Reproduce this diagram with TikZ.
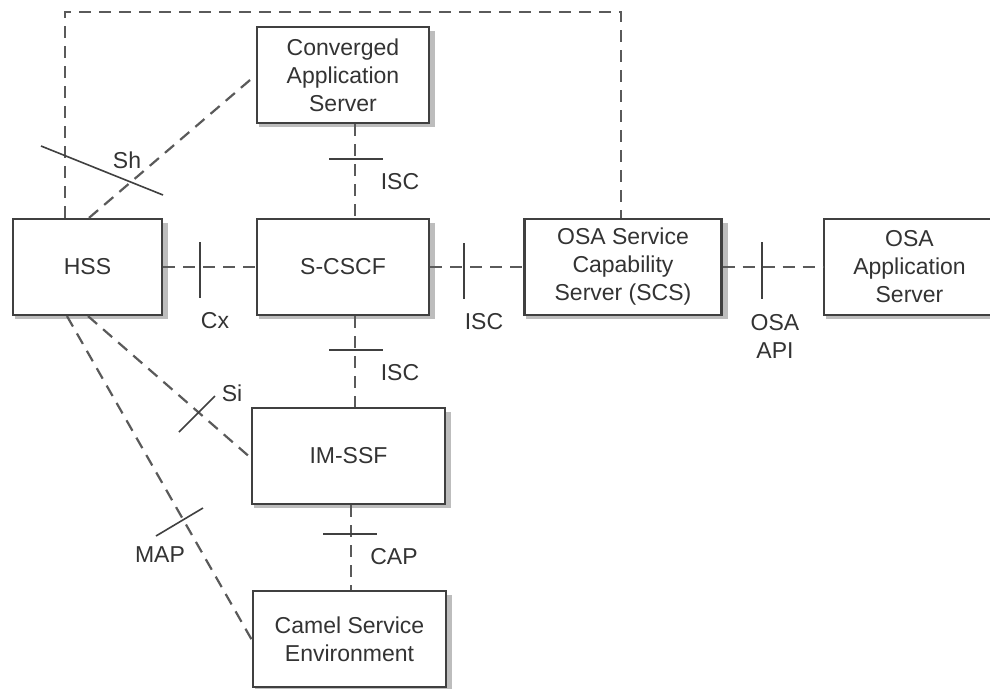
\documentclass[tikz,border=0pt]{standalone}
\usepackage{fontspec}
\setmainfont{Liberation Sans}
\usetikzlibrary{backgrounds}
\definecolor{boxline}{HTML}{404040}
\definecolor{dashline}{HTML}{5A5A5A}
\definecolor{txt}{HTML}{333333}
\definecolor{shade}{HTML}{BDBDBD}
\begin{document}
\begin{tikzpicture}[x=1pt,y=-1pt,
  box/.style={draw=boxline, line width=2.2pt, fill=white, rectangle, minimum height=96pt,
    align=center, text=txt, font=\fontsize{23}{28}\selectfont, inner sep=0pt},
  shadowbox/.style={fill=shade},
  dl/.style={draw=dashline, line width=2.2pt, dash pattern=on 12pt off 8pt},
  tick/.style={draw=boxline, line width=1.6pt},
  lbl/.style={text=txt, font=\fontsize{23}{28}\selectfont, align=center, inner sep=0pt}]
\useasboundingbox (0,0) rectangle (990,688);
\clip (0,0) rectangle (990,688);

\coordinate (topl) at (65,12);
\coordinate (topr) at (621,12);

\node[box, minimum width=149pt] (hss) at (87.5,267) {HSS};
\node[box, minimum width=172pt] (cas) at (343,75) {Converged\\Application\\Server};
\node[box, minimum width=172pt] (scscf) at (343,267) {S-CSCF};
\node[box, minimum width=197pt] (scs) at (623,267) {OSA Service\\Capability\\Server (SCS)};
\node[box, minimum width=171pt] (osaas) at (909.5,267) {OSA\\Application\\Server};
\node[box, minimum width=193pt] (imssf) at (348.5,456) {IM-SSF};
\node[box, minimum width=193pt] (camel) at (349.5,639) {Camel Service\\Environment};

\begin{scope}[on background layer]
\fill[white] (0,0) rectangle (990,688);
\foreach \n in {hss,cas,scscf,scs,osaas,imssf,camel}{
  \fill[shadowbox] ([shift={(3,3)}]\n.south west) rectangle ([shift={(5,5)}]\n.north east);
}
\end{scope}

% dashed connectors
\draw[dl] ([xshift=-22.5pt]hss.north) -- (topl) -- (topr) -- ([xshift=-2pt]scs.north);
\draw[dl] ([xshift=1.5pt]hss.north) -- (cas.west);
\draw[dl] (hss.east) -- (scscf.west);
\draw[dl] ([xshift=12pt]cas.south) -- ([xshift=12pt]scscf.north);
\draw[dl] ([xshift=12pt]scscf.south) -- ([xshift=6.5pt]imssf.north);
\draw[dl] ([xshift=2.5pt]imssf.south) -- ([xshift=1.5pt]camel.north);
\draw[dl] (scscf.east) -- (scs.west);
\draw[dl] (scs.east) -- (osaas.west);
\draw[dl] ([xshift=0.5pt]hss.south) -- ([yshift=-2pt]imssf.west);
\draw[dl] ([xshift=-20.5pt]hss.south) -- ([yshift=-1pt]camel.west);

% interface ticks
\coordinate (sh1) at (41,146);   \coordinate (sh2) at (163,195);
\coordinate (cx1) at (200,242);  \coordinate (cx2) at (200,298);
\coordinate (is1a) at (329,159); \coordinate (is1b) at (383,159);
\coordinate (is2a) at (329,350); \coordinate (is2b) at (383,350);
\coordinate (is3a) at (464,243); \coordinate (is3b) at (464,299);
\coordinate (api1) at (762,242); \coordinate (api2) at (762,299);
\coordinate (si1) at (179,432);  \coordinate (si2) at (215,396);
\coordinate (map1) at (156,536); \coordinate (map2) at (203,508);
\coordinate (cap1) at (323,534); \coordinate (cap2) at (377,534);
\draw[tick] (sh1) -- (sh2);
\draw[tick] (cx1) -- (cx2);
\draw[tick] (is1a) -- (is1b);
\draw[tick] (is2a) -- (is2b);
\draw[tick] (is3a) -- (is3b);
\draw[tick] (api1) -- (api2);
\draw[tick] (si1) -- (si2);
\draw[tick] (map1) -- (map2);
\draw[tick] (cap1) -- (cap2);

% labels
\node[lbl] (lsh) at (127,160) {Sh};
\node[lbl] (lisc1) at (400,182) {ISC};
\node[lbl] (lcx) at (215,321) {Cx};
\node[lbl] (lisc3) at (484,322) {ISC};
\node[lbl] (lapi) at (775,336) {OSA\\API};
\node[lbl] (lisc2) at (400,373) {ISC};
\node[lbl] (lsi) at (232,393) {Si};
\node[lbl] (lmap) at (160,555) {MAP};
\node[lbl] (lcap) at (394,557) {CAP};
\end{tikzpicture}
\end{document}
